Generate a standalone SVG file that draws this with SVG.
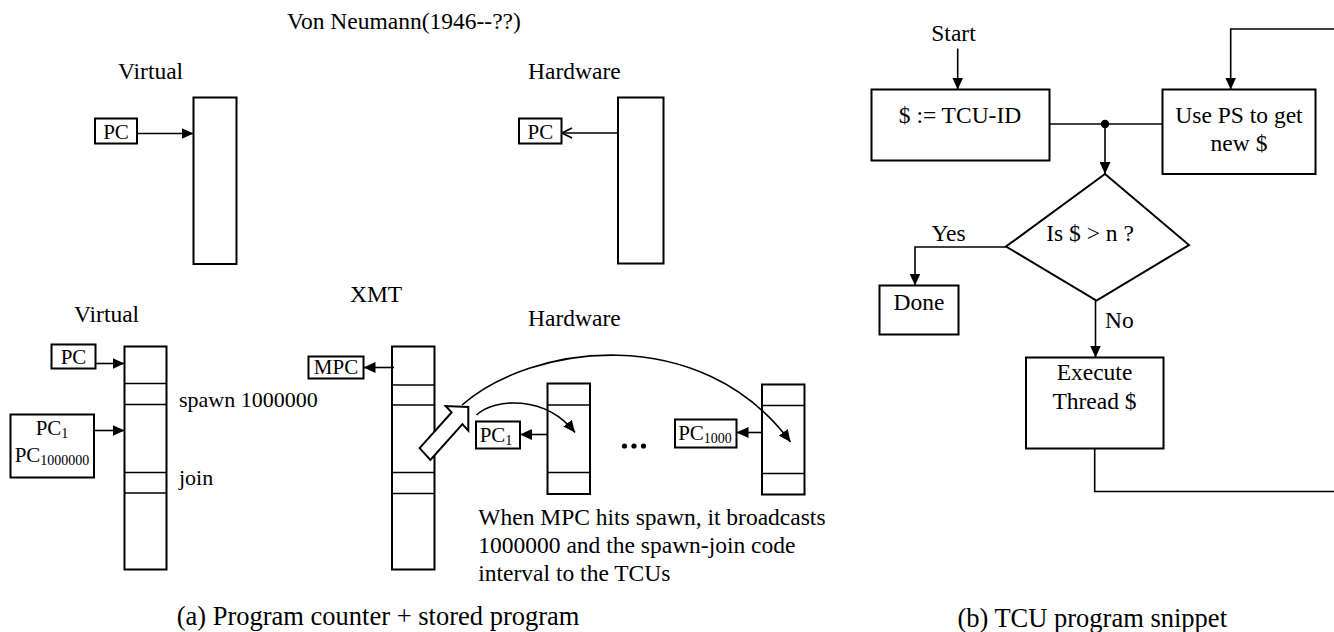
<svg xmlns="http://www.w3.org/2000/svg" width="1334" height="632" viewBox="0 0 1334 632">
<defs>
<style>
text{font-family:"Liberation Serif","Times New Roman",serif;fill:#000}
.lbl{font-size:23.5px}
.sm{font-size:22px}
.box{font-size:21px}
.cap{font-size:26.5px}
.sub{font-size:14px}
.r{fill:#fff;stroke:#000;stroke-width:2}
.ln{fill:none;stroke:#000;stroke-width:1.6}
.sep{stroke:#000;stroke-width:1.6}
</style>
<marker id="ah" markerUnits="userSpaceOnUse" markerWidth="12" markerHeight="11" refX="12" refY="5.5" orient="auto" viewBox="0 0 12 11">
<path d="M0,0 L12,5.5 L0,11 z" fill="#000"/>
</marker>
<marker id="av" markerUnits="userSpaceOnUse" markerWidth="12" markerHeight="12" refX="11" refY="6" orient="auto" viewBox="0 0 12 12">
<path d="M1,1 L11,6 L1,11" fill="none" stroke="#000" stroke-width="1.8"/>
</marker>
</defs>
<rect width="1334" height="632" fill="#fff"/>

<text class="lbl" x="287" y="29">Von Neumann(1946--??)</text>

<g id="vn-virtual">
<text class="lbl" x="118" y="79">Virtual</text>
<rect class="r" x="193.5" y="97.5" width="43" height="166.5"/>
</g>
<g id="vn-virtual-pc">
<rect class="r" x="95" y="118.5" width="42" height="25"/>
<text class="box" x="116" y="138.5" text-anchor="middle">PC</text>
</g>

<g id="vn-hardware">
<text class="lbl" x="528" y="79">Hardware</text>
<rect class="r" x="618" y="97.5" width="45.5" height="166"/>
</g>
<g id="vn-hardware-pc">
<rect class="r" x="519" y="118.5" width="42.5" height="25"/>
<text class="box" x="540.3" y="139" text-anchor="middle">PC</text>
</g>

<g id="xmt-virtual">
<text class="lbl" x="74" y="322">Virtual</text>
<rect class="r" x="124.5" y="346.5" width="42" height="223"/>
<line class="sep" x1="124.5" y1="383.5" x2="166.5" y2="383.5"/>
<line class="sep" x1="124.5" y1="404.5" x2="166.5" y2="404.5"/>
<line class="sep" x1="124.5" y1="472.5" x2="166.5" y2="472.5"/>
<line class="sep" x1="124.5" y1="493" x2="166.5" y2="493"/>
<text class="sm" x="179" y="407">spawn 1000000</text>
<text class="sm" x="179" y="485">join</text>
</g>
<g id="xmt-virtual-pc">
<rect class="r" x="51.5" y="344.5" width="44" height="24"/>
<text class="box" x="73.5" y="363.5" text-anchor="middle">PC</text>
</g>
<g id="xmt-virtual-pcs">
<rect class="r" x="10.5" y="414.5" width="83.5" height="63"/>
<text class="box" x="52" y="435" text-anchor="middle">PC<tspan class="sub" dy="3">1</tspan></text>
<text class="box" x="52" y="462" text-anchor="middle">PC<tspan class="sub" dy="3">1000000</tspan></text>
</g>

<text class="lbl" x="350" y="302">XMT</text>
<text class="lbl" x="528" y="326">Hardware</text>

<g id="xmt-master">
<rect class="r" x="392" y="346.5" width="42.5" height="223"/>
<line class="sep" x1="392" y1="385" x2="434.5" y2="385"/>
<line class="sep" x1="392" y1="405" x2="434.5" y2="405"/>
<line class="sep" x1="392" y1="472.5" x2="434.5" y2="472.5"/>
<line class="sep" x1="392" y1="493.5" x2="434.5" y2="493.5"/>
</g>
<g id="xmt-mpc">
<rect class="r" x="308.5" y="356.5" width="55" height="22"/>
<text class="box" x="336" y="374" text-anchor="middle">MPC</text>
</g>

<g id="tcu1">
<rect class="r" x="547.5" y="383.5" width="42.5" height="110.5"/>
<line class="sep" x1="547.5" y1="405" x2="590" y2="405"/>
<line class="sep" x1="547.5" y1="472.5" x2="590" y2="472.5"/>
</g>
<g id="tcu1-pc">
<rect class="r" x="476" y="421.5" width="44" height="27"/>
<text class="box" x="496" y="442" text-anchor="middle">PC<tspan class="sub" dy="3">1</tspan></text>
</g>

<g id="dots">
<circle cx="624.5" cy="446" r="2.6"/>
<circle cx="634" cy="446" r="2.6"/>
<circle cx="643.5" cy="446" r="2.6"/>
</g>

<g id="tcu1000">
<rect class="r" x="762" y="384.5" width="42.5" height="110"/>
<line class="sep" x1="762" y1="405.5" x2="804.5" y2="405.5"/>
<line class="sep" x1="762" y1="473.5" x2="804.5" y2="473.5"/>
</g>
<g id="tcu1000-pc">
<rect class="r" x="675" y="419.5" width="61.5" height="28"/>
<text class="box" x="705" y="440" text-anchor="middle">PC<tspan class="sub" dy="3">1000</tspan></text>
</g>

<g id="broadcast-arrow">
<polygon points="419.6,448.1 451.6,412.4 445.7,406 468.3,407 468.3,430.7 462.4,424.2 430.4,459.9" fill="#fff" stroke="#000" stroke-width="2" stroke-linejoin="miter"/>
</g>

<g id="note">
<text class="lbl" x="478.3" y="525">When MPC hits spawn, it broadcasts</text>
<text class="lbl" x="478.3" y="553">1000000 and the spawn-join code</text>
<text class="lbl" x="478.3" y="581">interval to the TCUs</text>
</g>

<text class="cap" x="176.7" y="625">(a) Program counter + stored program</text>
<text class="cap" x="1227" y="627" text-anchor="end">(b) TCU program snippet</text>

<g id="fc-start"><text class="lbl" x="953.5" y="41" text-anchor="middle">Start</text></g>
<g id="fc-init">
<rect class="r" x="871.5" y="89.5" width="178" height="71"/>
<text class="lbl" x="960" y="123" text-anchor="middle">$ := TCU-ID</text>
</g>
<g id="fc-ps">
<rect class="r" x="1162.5" y="89.5" width="153" height="84.5"/>
<text class="lbl" x="1239" y="123" text-anchor="middle">Use PS to get</text>
<text class="lbl" x="1239" y="151" text-anchor="middle">new $</text>
</g>
<g id="fc-test">
<polygon class="r" points="1105,174 1189,245 1096.5,300.5 1006,246.5"/>
<text class="lbl" x="1090" y="241" text-anchor="middle">Is $ &gt; n ?</text>
</g>
<g id="fc-done">
<rect class="r" x="879.5" y="285.5" width="79" height="49"/>
<text class="lbl" x="919" y="309.5" text-anchor="middle">Done</text>
</g>
<g id="fc-exec">
<rect class="r" x="1026" y="357.5" width="137.5" height="91"/>
<text class="lbl" x="1094.5" y="380" text-anchor="middle">Execute</text>
<text class="lbl" x="1094.5" y="408.5" text-anchor="middle">Thread $</text>
</g>

<g id="connectors">
<line class="ln" x1="137" y1="133.5" x2="193.5" y2="133.5" marker-end="url(#ah)"/>
<line class="ln" x1="618" y1="133" x2="562" y2="133" marker-end="url(#av)"/>
<line class="ln" x1="95.5" y1="363.5" x2="124.5" y2="363.5" marker-end="url(#ah)"/>
<line class="ln" x1="94" y1="430.5" x2="124.5" y2="430.5" marker-end="url(#ah)"/>
<line class="ln" x1="394" y1="367.5" x2="363.5" y2="367.5" marker-end="url(#ah)"/>
<line class="ln" x1="547.5" y1="434.5" x2="520" y2="434.5" marker-end="url(#ah)"/>
<line class="ln" x1="762" y1="432.5" x2="736.5" y2="432.5" marker-end="url(#ah)"/>
<path class="ln" d="M462,405 C530,345 700,320 790.5,442" marker-end="url(#ah)"/>
<path class="ln" d="M476.5,415 C495,398 545,395 575,432.5" marker-end="url(#ah)"/>
<line class="ln" x1="957.7" y1="48.5" x2="957.7" y2="89.5" marker-end="url(#ah)"/>
<line class="ln" x1="1049.5" y1="124" x2="1162.5" y2="124"/>
<circle cx="1105" cy="124" r="4.2" fill="#000"/>
<line class="ln" x1="1105" y1="124" x2="1105" y2="174" marker-end="url(#ah)"/>
<polyline class="ln" points="1334,29 1230.7,29 1230.7,89.5" marker-end="url(#ah)"/>
<polyline class="ln" points="1006,247 915,247 915,285.5" marker-end="url(#ah)"/>
<text class="lbl" x="931.5" y="241">Yes</text>
<line class="ln" x1="1095.5" y1="300.5" x2="1095.5" y2="357.5" marker-end="url(#ah)"/>
<text class="lbl" x="1105" y="327.5">No</text>
<polyline class="ln" points="1094.7,448.5 1094.7,491.5 1334,491.5"/>
</g>
</svg>
